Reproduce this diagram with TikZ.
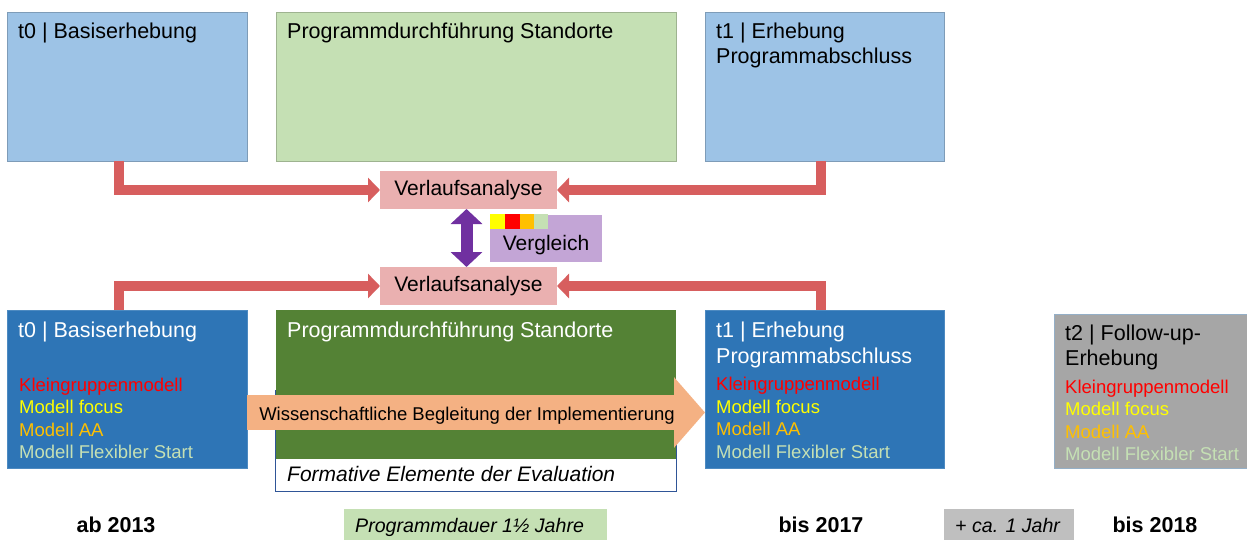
\documentclass[tikz,border=0pt]{standalone}
\usepackage{fontspec}
\setmainfont{Liberation Sans}
\usetikzlibrary{arrows.meta}
\definecolor{lblue}{HTML}{9DC3E6}
\definecolor{lgreen}{HTML}{C5E0B4}
\definecolor{dblue}{HTML}{2E75B6}
\definecolor{dgreen}{HTML}{548235}
\definecolor{pinkbox}{HTML}{EAB0B0}
\definecolor{redline}{HTML}{D75E5E}
\definecolor{purp}{HTML}{7030A0}
\definecolor{lilac}{HTML}{C3A5D6}
\definecolor{orangearr}{HTML}{F4B183}
\definecolor{greybox}{HTML}{A6A6A6}
\definecolor{lgreybox}{HTML}{BFBFBF}
\definecolor{mred}{HTML}{FF0000}
\definecolor{myellow}{HTML}{FFFF00}
\definecolor{morange}{HTML}{FFC000}
\definecolor{mgreen}{HTML}{C5E0B4}
\definecolor{navyb}{HTML}{2F5597}
\begin{document}
\begin{tikzpicture}[x=1pt,y=-1pt,
  box/.style={rectangle, anchor=north west, inner sep=0pt, outer sep=0pt},
  title/.style={font=\fontsize{21.5}{26}\selectfont, anchor=base west, inner sep=0pt},
  item/.style={font=\fontsize{18.5}{22}\selectfont, anchor=base west, inner sep=0pt},
  itl/.style={font=\fontsize{19.6}{23}\selectfont\itshape, anchor=base west, inner sep=0pt},
  yeartxt/.style={font=\fontsize{21.5}{25}\selectfont\bfseries, anchor=base, inner sep=0pt},
  redconn/.style={draw=redline, line width=10pt, -{Triangle[length=12pt,width=24pt]}},
  vabox/.style={box, fill=pinkbox, minimum width=177pt, minimum height=38pt,
    font=\fontsize{21}{25}\selectfont},
]
\useasboundingbox (0,0) rectangle (1247,540);

% ---------- upper row ----------
\node[box, fill=lblue, draw=lblue!80!black, line width=0.6pt, minimum width=240pt, minimum height=149pt] (t0a) at (7,12) {};
\node[title] (t0at) at (18,39) {t0 | Basiserhebung};
\node[box, fill=lgreen, draw=lgreen!80!black, line width=0.6pt, minimum width=400pt, minimum height=149pt] (pda) at (276,12) {};
\node[title] (pdat) at (287,39) {Programmdurchführung Standorte};
\node[box, fill=lblue, draw=lblue!80!black, line width=0.6pt, minimum width=239pt, minimum height=149pt] (t1a) at (705,12) {};
\node[title] (t1at) at (716,39) {t1 | Erhebung};
\node[title] (t1at2) at (716,64) {Programmabschluss};

% ---------- Verlaufsanalyse / Vergleich ----------
\node[vabox] (va1) at (380,171) {Verlaufsanalyse};
\node[vabox] (va2) at (380,267) {Verlaufsanalyse};
\node[box, fill=lilac, minimum width=112pt, minimum height=47pt] (vg) at (490,215) {};
\node[title, font=\fontsize{21}{25}\selectfont, anchor=base] (vgt) at (546,251) {Vergleich};
\fill[myellow] (490,214) rectangle (505,229);
\fill[mred] (505,214) rectangle (520,229);
\fill[morange] (520,214) rectangle (534,229);
\fill[mgreen] (534,214) rectangle (548,229);
\draw[purp, line width=12pt, {Triangle[length=15pt,width=31pt]}-{Triangle[length=15pt,width=31pt]}] (va1.south) ++(-2,0) coordinate (pa1) -- (pa1 |- va2.north);

% ---------- lower row ----------
\node[box, fill=white, draw=navyb, line width=0.8pt, minimum width=401pt, minimum height=101pt] (fe) at (275,390) {};
\node[box, fill=dgreen, minimum width=400pt, minimum height=149pt] (pdb) at (276,310) {};
\node[title, white] (pdbt) at (287,337) {Programmdurchführung Standorte};
\node[itl, font=\fontsize{21}{25}\selectfont\itshape] (fet) at (287,481) {Formative Elemente der Evaluation};

\node[box, fill=dblue, draw=dblue!85!white, line width=0.6pt, minimum width=240pt, minimum height=158pt] (t0b) at (7,310) {};
\node[title, white] (t0bt) at (18,337) {t0 | Basiserhebung};
\node[item, mred] at (19,391) {Kleingruppenmodell};
\node[item, myellow] at (19,413.5) {Modell focus};
\node[item, morange] at (19,436) {Modell AA};
\node[item, mgreen] at (19,458.5) {Modell Flexibler Start};

\node[box, fill=dblue, draw=dblue!85!white, line width=0.6pt, minimum width=239pt, minimum height=158pt] (t1b) at (705,310) {};
\node[title, white] (t1bt) at (716,337) {t1 | Erhebung};
\node[title, white] (t1bt2) at (716,363) {Programmabschluss};
\node[item, mred] at (716,390.5) {Kleingruppenmodell};
\node[item, myellow] at (716,413) {Modell focus};
\node[item, morange] at (716,435.5) {Modell AA};
\node[item, mgreen] at (716,458) {Modell Flexibler Start};

\node[box, fill=greybox, draw=lblue!70!gray, line width=0.6pt, minimum width=194pt, minimum height=154pt] (t2) at (1054,314) {};
\node[title] (t2t) at (1065,340) {t2 | Follow-up-};
\node[title] (t2t2) at (1065,365) {Erhebung};
\node[item, mred] at (1065,393) {Kleingruppenmodell};
\node[item, myellow] at (1065,415.5) {Modell focus};
\node[item, morange] at (1065,438) {Modell AA};
\node[item, mgreen] at (1065,460.5) {Modell Flexibler Start};

% ---------- orange arrow ----------
\coordinate (wb) at (0,412.5);
\draw[orangearr, line width=35pt, -{Triangle[length=31pt,width=69pt]}] (t0b.east |- wb) -- (t1b.west |- wb);
\node[item, anchor=base] (wbt) at (467,420) {Wissenschaftliche Begleitung der Implementierung};

% ---------- red connectors ----------
\draw[redconn] ([xshift=-8pt]t0a.south) |- (va1.west);
\draw[redconn] ([xshift=-4pt]t1a.south) |- (va1.east);
\draw[redconn] ([xshift=-8pt]t0b.north) |- (va2.west);
\draw[redconn] ([xshift=-4pt]t1b.north) |- (va2.east);

% ---------- bottom timeline ----------
\node[yeartxt] (y13) at (116,532) {ab 2013};
\node[box, fill=lgreen, minimum width=263pt, minimum height=32pt] (pdur) at (344,509) {};
\node[itl] (pdurt) at (355,532) {Programmdauer 1½ Jahre};
\node[yeartxt] (y17) at (821,532) {bis 2017};
\node[box, fill=lgreybox, minimum width=130pt, minimum height=32pt] (plus) at (944,509) {};
\node[itl] (plust) at (955,532) {+ ca. 1 Jahr};
\node[yeartxt] (y18) at (1155,532) {bis 2018};
\end{tikzpicture}
\end{document}
